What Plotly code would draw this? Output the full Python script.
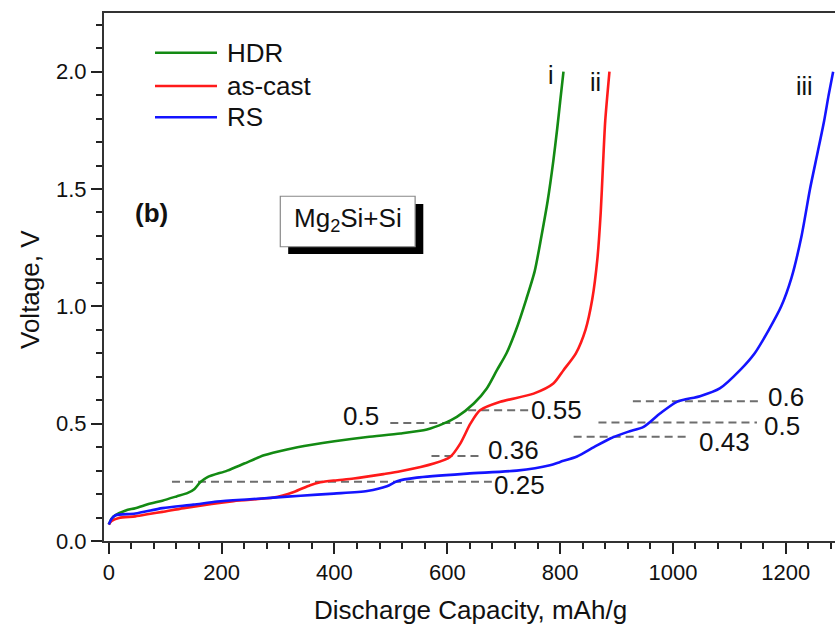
import plotly.graph_objects as go

# ---------------- data ----------------
hdr_x = [0, 5, 12, 30, 47, 74, 95, 120, 140, 152, 162, 175, 210, 240, 275, 316, 360, 400, 458, 517,
         564, 593, 617, 647, 670, 688, 705, 722, 740, 755, 767, 778, 788, 795, 800, 806]
hdr_v = [0.07, 0.095, 0.11, 0.13, 0.14, 0.16, 0.172, 0.19, 0.205, 0.222, 0.25, 0.272, 0.30, 0.33, 0.365,
         0.39, 0.41, 0.425, 0.443, 0.458, 0.475, 0.50, 0.529, 0.586, 0.65, 0.728, 0.80, 0.90, 1.03, 1.15,
         1.30, 1.45, 1.62, 1.76, 1.87, 2.0]

ascast_x = [0, 5, 18, 47, 74, 95, 133, 221, 292, 328, 357, 375, 400, 434, 487, 517, 576, 605, 623, 641,
            658, 694, 753, 788, 806, 828, 845, 857, 866, 872, 876, 880, 887.5]
ascast_v = [0.07, 0.085, 0.098, 0.105, 0.116, 0.124, 0.14, 0.17, 0.185, 0.209, 0.238, 0.25, 0.258,
            0.266, 0.285, 0.297, 0.33, 0.358, 0.415, 0.50, 0.557, 0.593, 0.628, 0.671, 0.728, 0.80,
            0.9, 1.03, 1.2, 1.4, 1.6, 1.79, 2.0]

rs_x = [0, 5, 12, 47, 95, 150, 192, 250, 292, 340, 399, 458, 493, 511, 546, 635, 723, 782, 800, 830,
        860, 889, 920, 948, 977, 1007, 1048, 1083, 1119, 1145, 1170, 1192, 1210, 1228, 1243, 1256,
        1268, 1276, 1284]
rs_v = [0.07, 0.095, 0.11, 0.117, 0.14, 0.155, 0.168, 0.178, 0.185, 0.193, 0.202, 0.213, 0.233, 0.255,
        0.27, 0.287, 0.30, 0.323, 0.337, 0.36, 0.40, 0.437, 0.465, 0.486, 0.543, 0.593, 0.617, 0.65,
        0.728, 0.8, 0.9, 1.0, 1.12, 1.3, 1.5, 1.65, 1.79, 1.9, 2.0]

series_names = ["HDR", "as-cast", "RS"]
series_colors = ["#138a13", "#ff1a1a", "#1414ff"]
series_tags = ["i", "ii", "iii"]
tag_x = [784, 862, 1234]
tag_v = [1.985, 1.955, 1.94]

# dashed reference levels: start, end, level, label, label x, label y
ref_x0 = [112, 499, 572, 637, 929, 868, 824]
ref_x1 = [679, 626, 661, 747, 1155, 1149, 1027]
ref_v = [0.252, 0.503, 0.362, 0.557, 0.596, 0.505, 0.444]
ref_text = ["0.25", "0.5", "0.36", "0.55", "0.6", "0.5", "0.43"]
ref_lab_x = [681, 481, 671, 747, 1167, 1160, 1045]
ref_lab_v = [0.238, 0.532, 0.387, 0.557, 0.613, 0.49, 0.422]
ref_lab_anchor = ["left", "right", "left", "left", "left", "left", "left"]

x_ticks = [0, 200, 400, 600, 800, 1000, 1200]
y_ticks = [0.0, 0.5, 1.0, 1.5, 2.0]

FONT = "Liberation Sans, Arial, sans-serif"
W, H = 835, 626
ML, MR, MT, MB = 104, 0, 13, 85
pw = W - ML - MR
ph = H - MT - MB


def px_x(p):  # window pixel -> paper x
    return (p - ML) / pw


def px_y(p):  # window pixel -> paper y
    return (H - MB - p) / ph


fig = go.Figure()

# dashed lines
for x0, x1, v in zip(ref_x0, ref_x1, ref_v):
    fig.add_trace(go.Scatter(x=[x0, x1], y=[v, v], mode="lines", showlegend=False, hoverinfo="skip",
                             line=dict(color="#6e6e6e", width=2, dash="8px,5px")))

for xs, vs, c, n in zip([hdr_x, ascast_x, rs_x], [hdr_v, ascast_v, rs_v], series_colors, series_names):
    fig.add_trace(go.Scatter(x=xs, y=vs, mode="lines", name=n, showlegend=False, cliponaxis=False,
                             line=dict(color=c, width=2.6, shape="spline", smoothing=0.7)))

ann = []
for t, lx, lv, a in zip(ref_text, ref_lab_x, ref_lab_v, ref_lab_anchor):
    ann.append(dict(x=lx, y=lv, text=t, showarrow=False, xanchor=a, yanchor="middle",
                    font=dict(size=26, color="#111"), borderpad=0))
for t, tx, tv in zip(series_tags, tag_x, tag_v):
    ann.append(dict(x=tx, y=tv, text=t, showarrow=False, xanchor="center", yanchor="middle",
                    font=dict(size=25, color="#111")))

# (b) label and sample box
ann.append(dict(x=76.5, y=1.397, text="<b>(b)</b>", showarrow=False, font=dict(size=26, color="#111")))
ann.append(dict(x=423.7, y=1.368, text="Mg<sub>2</sub>Si+Si", showarrow=False,
                font=dict(size=26, color="#111")))

# axis titles
ann.append(dict(xref="paper", yref="paper", x=px_x(470), y=px_y(610),
                text="Discharge Capacity, mAh/g", showarrow=False, xanchor="center", yanchor="middle",
                font=dict(size=26, color="#111")))
ann.append(dict(xref="paper", yref="paper", x=px_x(30), y=px_y(290),
                text="Voltage, V", showarrow=False, xanchor="center", yanchor="middle", textangle=-90,
                font=dict(size=26, color="#111")))

shapes = [
    dict(type="rect", xref="x", yref="y", x0=318, x1=557.5, y0=1.223, y1=1.436,
         fillcolor="black", line=dict(width=0), layer="above"),
    dict(type="rect", xref="x", yref="y", x0=304, x1=543, y0=1.254, y1=1.469,
         fillcolor="white", line=dict(color="#888", width=1.2), layer="above"),
]

# legend (manual, in paper coordinates)
leg_y_px = [52.7, 86, 117.3]
for n, c, ypx in zip(series_names, series_colors, leg_y_px):
    yp = px_y(ypx)
    shapes.append(dict(type="line", xref="paper", yref="paper",
                       x0=px_x(155), x1=px_x(217), y0=yp, y1=yp,
                       line=dict(color=c, width=2.6)))
    ann.append(dict(xref="paper", yref="paper", x=px_x(225), y=yp, text=n, showarrow=False,
                    xanchor="left", yanchor="middle", font=dict(size=26, color="#111")))

fig.update_layout(
    width=W, height=H,
    margin=dict(l=ML, r=MR, t=MT, b=MB, autoexpand=False),
    paper_bgcolor="white", plot_bgcolor="white",
    font=dict(family=FONT, color="#111"),
    showlegend=False,
    annotations=ann,
    shapes=shapes,
    xaxis=dict(range=[-8.5, 1287.3], tickvals=x_ticks, ticktext=[str(v) for v in x_ticks],
               ticks="outside", ticklen=11, tickwidth=1.5, tickcolor="#222", automargin=False,
               minor=dict(dtick=40, tick0=0, ticks="outside", ticklen=6, tickwidth=1.5, tickcolor="#222"),
               showline=True, linecolor="#333", linewidth=2, mirror=True, showgrid=False, zeroline=False,
               tickfont=dict(size=22, color="#111")),
    yaxis=dict(range=[0, 2.25], tickvals=y_ticks, ticktext=["%.1f" % v for v in y_ticks],
               ticks="outside", ticklen=11, tickwidth=1.5, tickcolor="#222", automargin=False,
               minor=dict(dtick=0.1, tick0=0, ticks="outside", ticklen=6, tickwidth=1.5, tickcolor="#222"),
               showline=True, linecolor="#333", linewidth=2, mirror=False, showgrid=False, zeroline=False,
               tickfont=dict(size=22, color="#111")),
)

# remove the default page margin so the 835x626 figure fills the window exactly
fig.write_html(
    "out.html",
    config={"displayModeBar": False},
    post_script="document.body.style.margin='0';document.documentElement.style.overflow='hidden';"
                "document.body.style.overflow='hidden';",
)
